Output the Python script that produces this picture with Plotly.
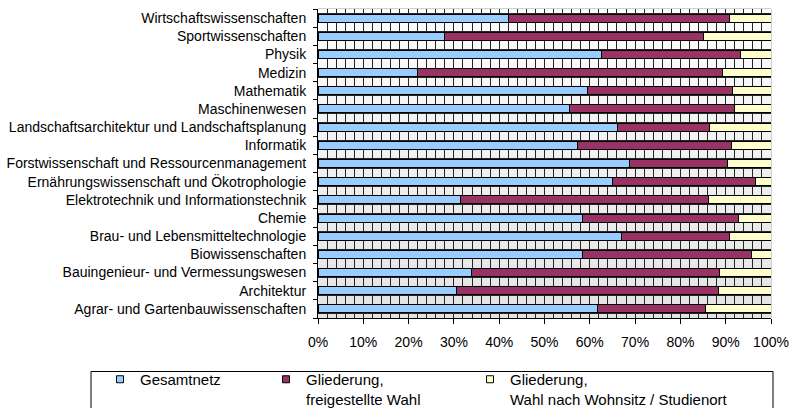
import plotly.graph_objects as go

# Categories listed top to bottom as in the chart
categories = [
    "Wirtschaftswissenschaften",
    "Sportwissenschaften",
    "Physik",
    "Medizin",
    "Mathematik",
    "Maschinenwesen",
    "Landschaftsarchitektur und Landschaftsplanung",
    "Informatik",
    "Forstwissenschaft und Ressourcenmanagement",
    "Ernährungswissenschaft und Ökotrophologie",
    "Elektrotechnik und Informationstechnik",
    "Chemie",
    "Brau- und Lebensmitteltechnologie",
    "Biowissenschaften",
    "Bauingenieur- und Vermessungswesen",
    "Architektur",
    "Agrar- und Gartenbauwissenschaften",
]
gesamtnetz = [42.1, 28.0, 62.6, 22.0, 59.5, 55.6, 66.1, 57.2, 68.7, 65.0, 31.4, 58.4, 67.0, 58.4, 33.8, 30.5, 61.7]
freigestellt = [48.8, 57.2, 30.6, 67.3, 32.1, 36.4, 20.4, 34.1, 21.8, 31.5, 54.9, 34.4, 23.9, 37.3, 54.8, 57.9, 23.9]
wohnsitz = [9.1, 14.8, 6.8, 10.7, 8.4, 8.0, 13.5, 8.7, 9.5, 3.5, 13.7, 7.2, 9.1, 4.3, 11.4, 11.6, 14.4]

series_names = ["Gesamtnetz", "Gliederung,<br>freigestellte Wahl", "Gliederung,<br>Wahl nach Wohnsitz / Studienort"]
series_values = [gesamtnetz, freigestellt, wohnsitz]
series_colors = ["#99CCFF", "#993366", "#FFFFCC"]

n = len(categories)
ypos = [n - 1 - i for i in range(n)]
FONT = "Liberation Sans, Arial, sans-serif"

fig = go.Figure()
for name, vals, col in zip(series_names, series_values, series_colors):
    fig.add_trace(go.Bar(
        y=ypos, x=[v / 100 for v in vals], orientation="h",
        marker=dict(color=col, line=dict(color="black", width=1)),
        width=0.44, showlegend=False, hoverinfo="x+name", name=name,
    ))

# legend-only entries (small square markers)
legend_ids = ["legend", "legend2", "legend3"]
for name, col, lg in zip(series_names, series_colors, legend_ids):
    fig.add_trace(go.Scatter(
        x=[None], y=[None], mode="markers", name=name, legend=lg,
        marker=dict(symbol="square", size=7, color=col, line=dict(color="black", width=1)),
        yaxis="y2",
    ))

# background gradient bands (top light -> bottom grey)
shapes = []
nb = 34
for k in range(nb):
    y0 = -0.5 + k * (n / nb)
    y1 = y0 + n / nb
    t = k / (nb - 1)  # 0 bottom, 1 top
    g = int(round(0xE3 + (0xFD - 0xE3) * t))
    shapes.append(dict(type="rect", xref="x", yref="y", x0=0, x1=1, y0=y0, y1=y1,
                       fillcolor=f"rgb({g},{g},{g})", line=dict(width=0), layer="below"))
# plot frame (top/right grey)
shapes.append(dict(type="rect", xref="paper", yref="paper", x0=0, x1=1, y0=0, y1=1,
                   line=dict(color="#A0A0A0", width=1), layer="below"))
# legend box
W, H = 792, 408
L, R, T, B = 318, 21, 9, 90
pw, ph = W - L - R, H - T - B


def px2x(px):
    return (px - L) / pw


def py2y(py):
    return (H - B - py) / ph


shapes.append(dict(type="rect", xref="paper", yref="paper",
                   x0=px2x(91), x1=px2x(773), y0=py2y(371.5), y1=py2y(430),
                   line=dict(color="black", width=1), fillcolor="rgba(0,0,0,0)", layer="above"))

leg_common = dict(orientation="h", yanchor="top", xanchor="left", valign="top",
                  bgcolor="rgba(0,0,0,0)", borderwidth=0,
                  font=dict(family=FONT, size=15, color="black"), tracegroupgap=0)

fig.update_layout(
    width=W, height=H,
    margin=dict(l=L, r=R, t=T, b=B, pad=0, autoexpand=False),
    paper_bgcolor="white", plot_bgcolor="white",
    barmode="stack", bargap=0.56,
    font=dict(family=FONT, size=14, color="black"),
    shapes=shapes,
    legend=dict(x=px2x(100), y=py2y(363), **leg_common),
    legend2=dict(x=px2x(266), y=py2y(363), **leg_common),
    legend3=dict(x=px2x(470), y=py2y(363), **leg_common),
    xaxis=dict(
        range=[0, 1], tickvals=[i / 10 for i in range(11)], tickformat=".0%",
        ticks="outside", ticklen=5, tickcolor="black", tickwidth=1,
        showline=True, linecolor="black", linewidth=1,
        showgrid=True, gridcolor="#262626", gridwidth=1,
        minor=dict(dtick=0.02, tick0=0, showgrid=True, gridcolor="#262626", gridwidth=1, ticks=""),
        tickfont=dict(family=FONT, size=14, color="black"),
        ticklabelstandoff=6,
        zeroline=False, fixedrange=True, layer="below traces",
    ),
    yaxis=dict(
        range=[-0.5, n - 0.5], tickvals=ypos, ticktext=categories,
        ticks="outside", ticklen=4, tickcolor="rgba(0,0,0,0)",
        showline=True, linecolor="black", linewidth=1,
        showgrid=False, zeroline=False,
        minor=dict(tick0=0.25, dtick=0.5, showgrid=True, gridcolor="#262626", gridwidth=1, ticks=""),
        tickfont=dict(family=FONT, size=14, color="black"),
        ticklabelstandoff=4, fixedrange=True, layer="below traces",
    ),
    yaxis2=dict(
        range=[-0.5, n - 0.5], overlaying="y", side="left",
        tickvals=[k - 0.5 for k in range(n + 1)], showticklabels=False,
        ticks="outside", ticklen=4, tickcolor="black", tickwidth=1,
        showgrid=False, zeroline=False, showline=False, fixedrange=True,
    ),
)

fig.write_html(
    "out.html",
    config={"displayModeBar": False, "staticPlot": True},
    post_script="document.body.style.margin='0';document.body.style.padding='0';"
                "document.body.style.overflow='hidden';",
)
